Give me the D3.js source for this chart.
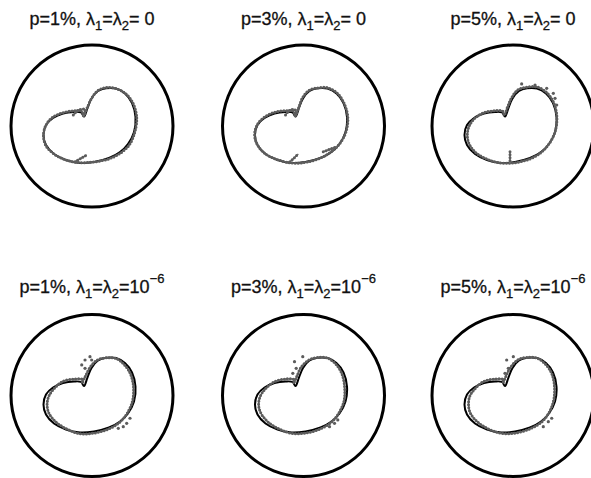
<!DOCTYPE html>
<html>
<head>
<meta charset="utf-8">
<script src="https://cdn.jsdelivr.net/npm/d3@7"></script>
<style>
  html, body { margin: 0; padding: 0; background: #fff; }
  svg { display: block; }
  text { font-family: "Liberation Sans", Arial, Helvetica, sans-serif; fill: #111; }
</style>
</head>
<body>
<svg id="chart" width="591" height="478"></svg>
<script>
// Noise levels and regularisation labels for the 3 x 2 panel grid
const noiseLevels = ["1%", "3%", "5%"];
const lambdaLabels = ["0", "10"];          // second row carries a superscript exponent
const lambdaExponent = [null, "\u22126"];

// Exact obstacle boundary (unit circle = measurement circle), y pointing up
const trueX = [-0.099, -0.056, -0.006, 0.074, 0.173, 0.296, 0.407, 0.494, 0.537, 0.519, 0.444, 0.346,
               0.210, 0.025, -0.148, -0.321, -0.469, -0.568, -0.599, -0.568, -0.481, -0.358, -0.222, -0.136];
const trueY = [0.117, 0.222, 0.340, 0.432, 0.465, 0.462, 0.401, 0.284, 0.111, -0.074, -0.222, -0.321,
               -0.395, -0.444, -0.457, -0.420, -0.346, -0.235, -0.111, 0.012, 0.099, 0.154, 0.173, 0.167];

// Reconstructed boundary: normal deviation from the exact boundary at each node, per panel
const recon1 = [0.010, 0.005, 0.000, 0.005, 0.010, 0.000, 0.005, 0.010, 0.015, 0.010, 0.020, 0.015,
                0.010, 0.000, -0.005, 0.000, 0.000, 0.005, 0.000, 0.000, 0.010, 0.010, 0.015, 0.020];
const recon2 = [0.010, 0.005, 0.010, 0.010, 0.005, 0.010, 0.010, 0.005, 0.010, 0.005, 0.000, -0.005,
                0.000, 0.005, 0.000, -0.005, 0.000, 0.000, 0.005, 0.005, 0.010, 0.015, 0.015, 0.020];
const recon3 = [0.020, 0.015, 0.015, 0.020, 0.015, 0.020, 0.015, 0.010, 0.005, 0.000, 0.000, 0.005,
                0.010, 0.010, 0.000, -0.010, -0.020, -0.030, -0.035, -0.030, -0.010, 0.010, 0.015, 0.020];
const recon4 = [0.045, 0.030, 0.020, 0.010, 0.000, -0.005, -0.020, -0.025, -0.025, -0.020, -0.010, 0.005,
                0.015, 0.020, 0.015, -0.010, -0.030, -0.040, -0.045, -0.040, -0.020, 0.020, 0.030, 0.035];
const recon5 = [0.040, 0.030, 0.025, 0.010, 0.005, 0.000, -0.015, -0.025, -0.030, -0.020, -0.010, 0.005,
                0.015, 0.020, 0.010, -0.015, -0.035, -0.045, -0.045, -0.040, -0.020, 0.015, 0.030, 0.035];
const recon6 = [0.045, 0.035, 0.025, 0.015, 0.005, 0.000, -0.015, -0.020, -0.025, -0.020, -0.005, 0.010,
                0.015, 0.020, 0.010, -0.015, -0.035, -0.045, -0.050, -0.040, -0.020, 0.020, 0.030, 0.035];

// Stray pieces of the reconstructed curve (loops, spurs, spikes) per panel
const strays1 = [[[-0.231, 0.136], [-0.177, 0.189], [-0.095, 0.206], [-0.086, 0.157], [-0.111, 0.123]],
                 [[-0.210, -0.441], [-0.065, -0.358]]];
const strays2 = [[[-0.222, 0.136], [-0.160, 0.200], [-0.099, 0.195], [-0.093, 0.148], [-0.111, 0.117]],
                 [[-0.167, -0.441], [-0.064, -0.346]],
                 [[0.244, -0.317], [0.410, -0.256]]];
const strays3 = [[[-0.037, -0.317], [-0.037, -0.460]]];
const strays4 = [];
const strays5 = [];
const strays6 = [];

// Isolated reconstruction points off the curve
const outliers1 = [];
const outliers2 = [];
const outliers3 = [[0.107, 0.519], [0.272, 0.506], [0.416, 0.465], [0.498, 0.404], [0.519, 0.342], [0.540, 0.259]];
const outliers4 = [[-0.127, 0.377], [-0.086, 0.438], [-0.025, 0.479], [-0.004, 0.438], [-0.086, 0.336],
                   [0.386, -0.385], [0.428, -0.343], [0.325, -0.405], [0.469, -0.281]];
const outliers5 = [[-0.111, 0.417], [-0.009, 0.479], [-0.090, 0.336], [-0.132, 0.274],
                   [0.321, -0.385], [0.383, -0.343], [0.423, -0.302]];
const outliers6 = [[-0.078, 0.438], [0.004, 0.479], [-0.058, 0.336], [-0.099, 0.274],
                   [0.374, -0.385], [0.436, -0.323], [0.478, -0.281]];

const recons = [recon1, recon2, recon3, recon4, recon5, recon6];
const strays = [strays1, strays2, strays3, strays4, strays5, strays6];
const outliers = [outliers1, outliers2, outliers3, outliers4, outliers5, outliers6];

// ---- layout ----
const colCenters = [92, 303.5, 513];
const rowCenters = [126, 395.5];
const titleBaselines = [25, 293];
const R = 81;

const svg = d3.select("#chart");
const truePts = trueX.map((x, i) => [x, trueY[i]]);

// outward normals of the exact boundary (node ordering is clockwise with y up)
const normals = truePts.map((p, i) => {
  const n = truePts.length;
  const a = truePts[(i - 1 + n) % n], b = truePts[(i + 1) % n];
  const tx = b[0] - a[0], ty = b[1] - a[1];
  const len = Math.hypot(tx, ty);
  return [-ty / len, tx / len];
});

for (let row = 0; row < 2; row++) {
  for (let col = 0; col < 3; col++) {
    const k = row * 3 + col;
    const cx = colCenters[col], cy = rowCenters[row];
    const x = d3.scaleLinear().domain([-1, 1]).range([cx - R, cx + R]);
    const y = d3.scaleLinear().domain([-1, 1]).range([cy + R, cy - R]);
    const g = svg.append("g");

    // measurement circle
    g.append("circle")
      .attr("cx", x(0)).attr("cy", y(0))
      .attr("r", x(1) - x(0))
      .attr("fill", "none").attr("stroke", "#000").attr("stroke-width", 3);

    const closed = d3.line().x(d => x(d[0])).y(d => y(d[1]))
      .curve(d3.curveCatmullRomClosed.alpha(0.5));
    const open = d3.line().x(d => x(d[0])).y(d => y(d[1]))
      .curve(d3.curveCatmullRom.alpha(0.5));

    // exact boundary
    g.append("path").attr("d", closed(truePts))
      .attr("fill", "none").attr("stroke", "#000").attr("stroke-width", 2)
      .attr("stroke-linejoin", "round");

    // reconstructed boundary
    const recPts = truePts.map((p, i) => [p[0] + recons[k][i] * normals[i][0],
                                          p[1] + recons[k][i] * normals[i][1]]);
    const drawDotted = (d) => {
      g.append("path").attr("d", d)
        .attr("fill", "none").attr("stroke", "#707070").attr("stroke-width", 1.5);
      g.append("path").attr("d", d)
        .attr("fill", "none").attr("stroke", "#5c5c5c").attr("stroke-width", 3)
        .attr("stroke-linecap", "round").attr("stroke-dasharray", "0 3");
    };
    drawDotted(closed(recPts));
    strays[k].forEach(s => drawDotted(open(s)));

    g.selectAll("circle.out").data(outliers[k]).join("circle")
      .attr("class", "out")
      .attr("cx", d => x(d[0])).attr("cy", d => y(d[1]))
      .attr("r", 1.6).attr("fill", "#5c5c5c");

    // panel title
    const t = g.append("text")
      .attr("x", cx).attr("y", titleBaselines[row])
      .attr("text-anchor", "middle")
      .attr("font-size", 18)
      .attr("stroke", "#111").attr("stroke-width", 0.3);
    t.append("tspan").text("p=" + noiseLevels[col] + ", \u03bb");
    t.append("tspan").attr("font-size", 13).attr("dy", 5).text("1");
    t.append("tspan").attr("dy", -5).text("=\u03bb");
    t.append("tspan").attr("font-size", 13).attr("dy", 5).text("2");
    if (lambdaExponent[row] === null) {
      t.append("tspan").attr("dy", -5).text("= " + lambdaLabels[row]);
    } else {
      t.append("tspan").attr("dy", -5).text("=" + lambdaLabels[row]);
      t.append("tspan").attr("font-size", 13).attr("dy", -10).text(lambdaExponent[row]);
    }
  }
}
</script>
</body>
</html>
